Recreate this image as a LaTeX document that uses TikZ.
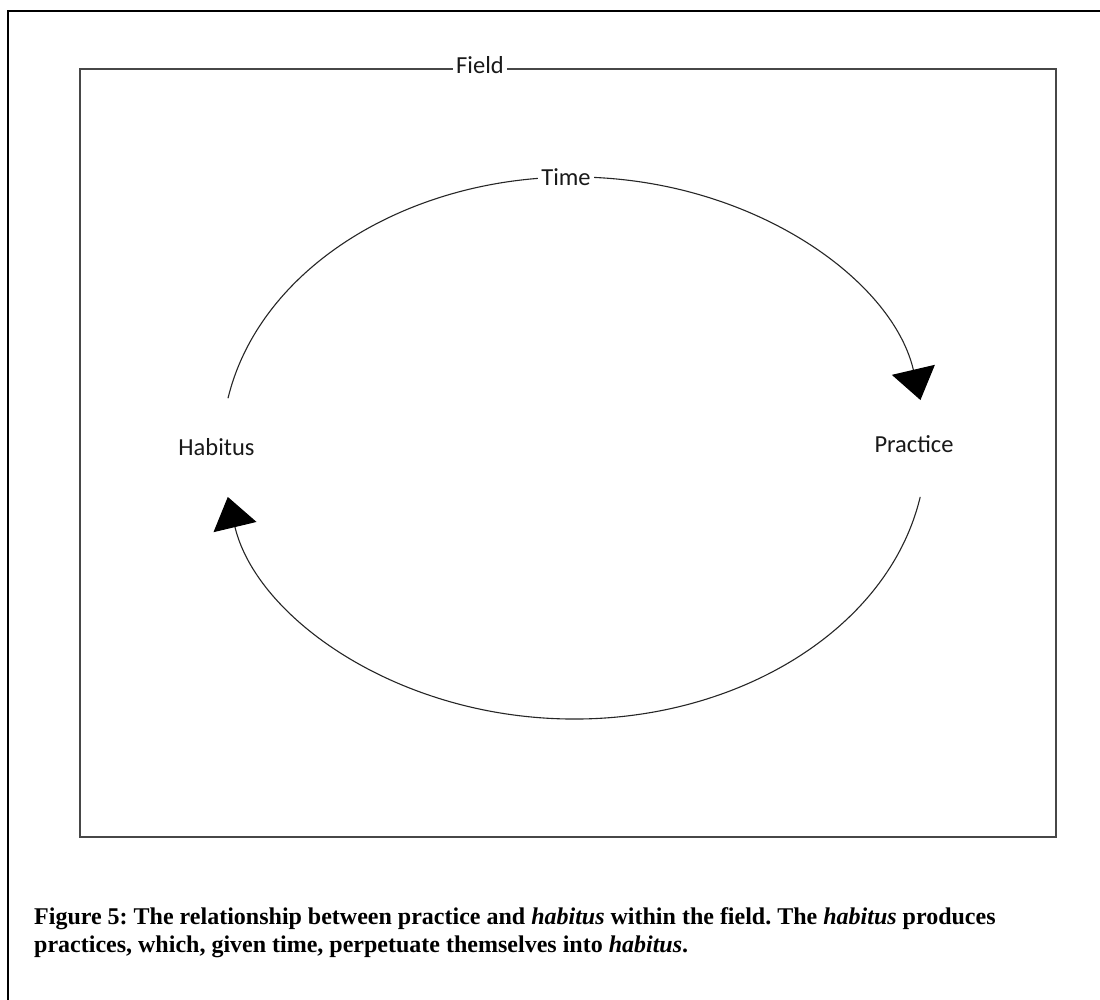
\documentclass[tikz,border=0pt]{standalone}
\usepackage{fontspec}
\setmainfont{Liberation Serif}
\newfontfamily\calib{Carlito}
\usetikzlibrary{arrows.meta}
\tikzset{
  frameline/.style={line width=2pt, black},
  fieldbox/.style={line width=1.6pt, black!72},
  cycle/.style={line width=1.1pt, black!85, -{Triangle[length=31pt,width=44pt,black]}},
  lbl/.style={font=\calib\fontsize{24.5}{28}\selectfont, text=black!90, inner sep=3pt},
  gaplbl/.style={lbl, fill=white},
  capt/.style={font=\frenchspacing\bfseries\fontsize{24}{28}\selectfont, align=left, inner sep=0pt}
}
\begin{document}
\begin{tikzpicture}[x=1pt,y=-1pt]
\useasboundingbox (0,0) rectangle (1100,999);
\fill[white] (0,0) rectangle (1100,999);
% outer frame (cropped)
\draw[frameline] (8,1010) -- (8,11) -- (1110,11);
% field box
\draw[fieldbox] (80,69) rectangle (1056,837);
\node[gaplbl, anchor=base] (field) at (480,73) {Field};
% cycle
\coordinate (C) at (574,448);
\path (C) ++(190.6:352 and 271) coordinate (habOut);
\path (C) ++(10.4:352 and 271) coordinate (pracOut);
\draw[cycle] (habOut) arc[start angle=190.6, end angle=349.8, x radius=352, y radius=271];
\draw[cycle] (pracOut) arc[start angle=10.4, end angle=169.6, x radius=352, y radius=271];
\node[gaplbl] (time) at (566,177) {Time};
\node[lbl, anchor=base] (habitus) at (216.5,455) {Habitus};
\node[lbl, anchor=base] (practice) at (914,452) {Practice};
% caption
\node[capt, anchor=base west] (caption) at (34,952) {Figure 5: The relationship between practice and \textit{habitus} within the field. The \textit{habitus} produces\\practices, which, given time, perpetuate themselves into \textit{habitus}.};
\end{tikzpicture}
\end{document}
